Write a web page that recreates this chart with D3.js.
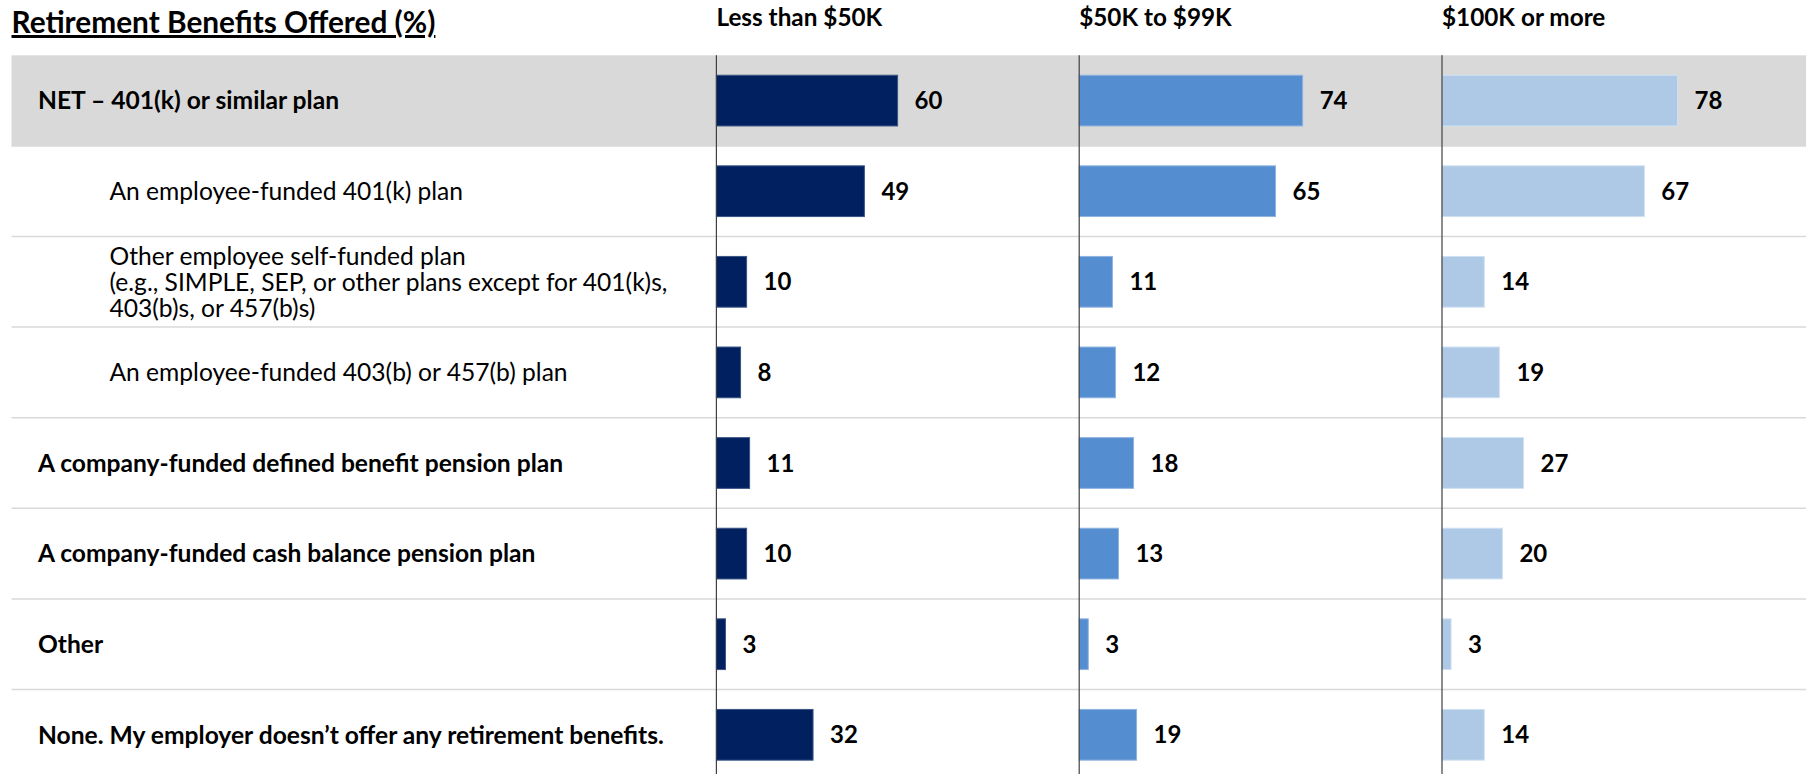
<!DOCTYPE html>
<html>
<head>
<meta charset="utf-8">
<script src="https://cdn.jsdelivr.net/npm/d3@7"></script>
<style>
  html, body { margin: 0; padding: 0; background: #ffffff; }
  svg { display: block; }
  text { font-family: Lato, "Open Sans", "Liberation Sans", sans-serif; fill: #000; }
</style>
</head>
<body>
<svg id="chart" width="1806" height="774"></svg>
<script>
// ---- data ----
const title = "Retirement Benefits Offered (%)";
const categories = [
  "NET \u2013 401(k) or similar plan",
  "An employee-funded 401(k) plan",
  "Other employee self-funded plan\n(e.g., SIMPLE, SEP, or other plans except for 401(k)s,\n403(b)s, or 457(b)s)",
  "An employee-funded 403(b) or 457(b) plan",
  "A company-funded defined benefit pension plan",
  "A company-funded cash balance pension plan",
  "Other",
  "None. My employer doesn\u2019t offer any retirement benefits."
];
const boldRows = [true, false, false, false, true, true, true, true];
const indentRows = [false, true, true, true, false, false, false, false];
const highlightRows = [true, false, false, false, false, false, false, false];
const groups = ["Less than $50K", "$50K to $99K", "$100K or more"];
const valuesUnder50K = [60, 49, 10, 8, 11, 10, 3, 32];
const values50to99K = [74, 65, 11, 12, 18, 13, 3, 19];
const values100KPlus = [78, 67, 14, 19, 27, 20, 3, 14];
const seriesValues = [valuesUnder50K, values50to99K, values100KPlus];
const groupColors = ["#002060", "#558ED0", "#ADC9E5"];
const groupStrokes = ["#3a5585", "#8fb4e0", "#cfe0f2"];

// ---- layout ----
const W = 1806, H = 774;
const left = 11.5;
const rowTop = 55.3, rowStep = 90.6;
const panelStart = 716.4, panelStep = 362.8, panelLen = 302;

const svg = d3.select("#chart");

const y = d3.scaleBand().domain(d3.range(categories.length))
  .range([rowTop, rowTop + rowStep * categories.length]).padding(0);
const barPad = 0.22;

const panel = d3.scaleBand().domain(groups)
  .range([panelStart, panelStart + panelStep * groups.length]).padding(0);
const xs = groups.map(g => d3.scaleLinear().domain([0, 100]).range([panel(g), panel(g) + panelLen]));

// highlight band
svg.append("g").selectAll("rect")
  .data(d3.range(categories.length).filter(i => highlightRows[i]))
  .join("rect")
  .attr("x", left).attr("y", i => y(i))
  .attr("width", W - left).attr("height", y.bandwidth())
  .attr("fill", "#D9D9D9");

// separators
svg.append("g").selectAll("line")
  .data(d3.range(1, categories.length))
  .join("line")
  .attr("x1", left).attr("x2", W)
  .attr("y1", i => y(i)).attr("y2", i => y(i))
  .attr("stroke", "#D9D9D9").attr("stroke-width", 1.5);

// title
svg.append("text")
  .attr("x", left).attr("y", 33)
  .attr("font-size", 29.8).attr("font-weight", 700)
  .attr("fill", "#1f1f1f")
  .attr("text-decoration", "underline")
  .text(title);

// group headers
svg.append("g").selectAll("text")
  .data(groups).join("text")
  .attr("x", g => panel(g)).attr("y", 26)
  .attr("font-size", 24.3).attr("font-weight", 700)
  .text(g => g);

// category labels
const lab = svg.append("g").selectAll("text")
  .data(categories).join("text")
  .attr("font-size", 24.6)
  .attr("font-weight", (d, i) => boldRows[i] ? 700 : 400)
  .attr("fill", "#000");
lab.each(function(d, i) {
  const lines = d.split("\n");
  const lh = 26;
  const cy = y(i) + y.bandwidth() / 2;
  const x = indentRows[i] ? 109.5 : 38;
  const t = d3.select(this);
  lines.forEach((ln, k) => {
    t.append("tspan")
      .attr("x", x)
      .attr("y", cy + (k - (lines.length - 1) / 2) * lh)
      .attr("dy", "0.36em")
      .text(ln);
  });
});

// bars + value labels
groups.forEach((g, gi) => {
  const x = xs[gi];
  const gg = svg.append("g");
  gg.selectAll("rect")
    .data(seriesValues[gi]).join("rect")
    .attr("x", x(0))
    .attr("y", (v, i) => y(i) + y.bandwidth() * barPad)
    .attr("width", v => x(v) - x(0))
    .attr("height", y.bandwidth() * (1 - 2 * barPad))
    .attr("fill", groupColors[gi])
    .attr("stroke", groupStrokes[gi]).attr("stroke-width", 1);
  gg.selectAll("text")
    .data(seriesValues[gi]).join("text")
    .attr("x", v => x(v) + 17)
    .attr("y", (v, i) => y(i) + y.bandwidth() / 2)
    .attr("dy", "0.36em")
    .attr("font-size", 24).attr("font-weight", 700)
    .text(v => v);
  // axis line
  svg.append("line")
    .attr("x1", x(0)).attr("x2", x(0))
    .attr("y1", rowTop).attr("y2", H)
    .attr("stroke", "#404040").attr("stroke-width", 1.2);
});
</script>
</body>
</html>
